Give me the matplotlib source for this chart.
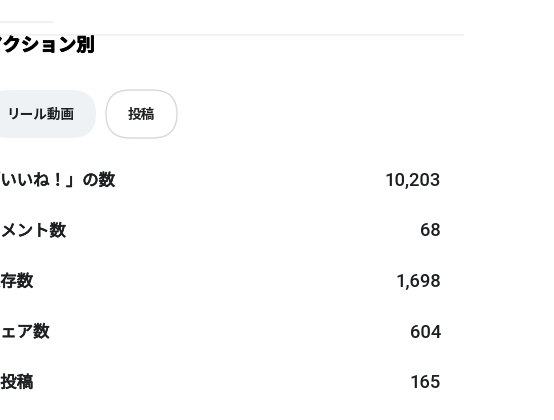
import matplotlib
matplotlib.use("Agg")
import matplotlib.pyplot as plt
from matplotlib.patches import FancyBboxPatch
import matplotlib.patheffects as pe

plt.rcParams['font.family'] = ['Noto Sans CJK JP', 'DejaVu Sans']

title = "アクション別"
tabs = ["リール動画", "投稿"]
metrics = ["「いいね！」の数", "コメント数", "保存数", "シェア数", "再投稿"]
values = [10203, 68, 1698, 604, 165]

W, H = 554, 420
fig = plt.figure(figsize=(W / 100, H / 100), dpi=100)
ax = fig.add_axes([0, 0, 1, 1])
ax.set_xlim(0, W)
ax.set_ylim(H, 0)
ax.axis('off')

left = -16
text_col = '#1c1e21'
medium = [pe.withStroke(linewidth=0.55, foreground=text_col)]
heavy = [pe.withStroke(linewidth=0.6, foreground='#000000')]

# separator lines
ax.plot([0, 53], [22, 22], color='#efefef', lw=1.2, solid_capstyle='butt')
ax.plot([0, 464], [35, 35], color='#f2f2f2', lw=1.5, solid_capstyle='butt')

# title
ax.text(left, 45.5, title, fontsize=13.3, fontweight='bold', color='#000000',
        ha='left', va='center', path_effects=heavy)

# tabs (pills)
pill_specs = [(-15, 111, '#eff2f5', 'none'), (106, 71, 'white', '#d8d8d8')]
for label, (x0, w, fc, ec) in zip(tabs, pill_specs):
    p = FancyBboxPatch((x0, 90), w, 48, boxstyle="round,pad=0,rounding_size=24",
                       facecolor=fc, edgecolor=ec, lw=1.0)
    ax.add_patch(p)
    ax.text(x0 + w / 2, 114.5, label, fontsize=9.8, fontweight='bold',
            color=text_col, ha='center', va='center')

# metric rows
y0, step = 181, 50.5
for i, (name, val) in enumerate(zip(metrics, values)):
    y = y0 + i * step
    ax.text(left, y, name, fontsize=11.8, color=text_col,
            ha='left', va='center', path_effects=medium)
    ax.text(441, y, f"{val:,}", fontsize=13.2, family=['Roboto', 'DejaVu Sans'],
            fontweight='medium', color=text_col, ha='right', va='center')

fig.savefig('out.png', dpi=100, facecolor='white')
